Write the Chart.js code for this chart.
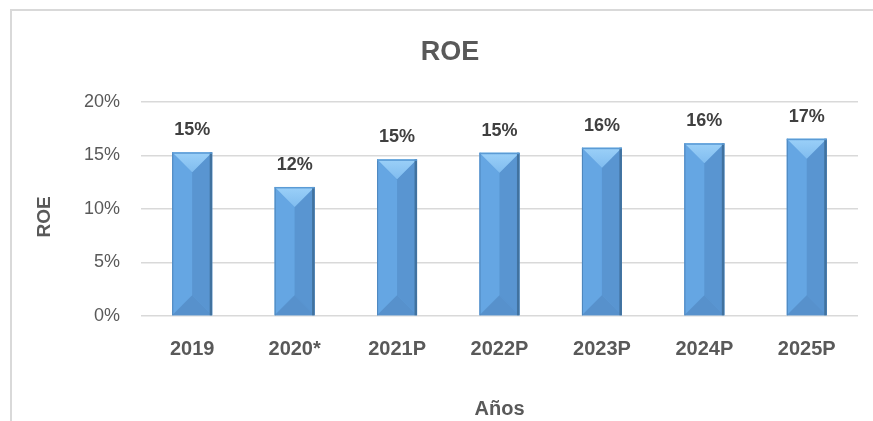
<!DOCTYPE html>
<html>
<head>
<meta charset="utf-8">
<script src="https://cdn.jsdelivr.net/npm/chart.js@4.4.1/dist/chart.umd.min.js"></script>
<style>
  html, body { margin: 0; padding: 0; background: #fff; }
  #wrap { width: 873px; height: 421px; }
</style>
</head>
<body>
<div id="wrap"><canvas id="roeChart" width="873" height="421"></canvas></div>
<script>
// datos del grafico
const years = ["2019", "2020*", "2021P", "2022P", "2023P", "2024P", "2025P"];
const roeValues = [0.153, 0.1206, 0.1464, 0.1526, 0.1573, 0.1614, 0.1657];
const yTicks = [0, 0.05, 0.10, 0.15, 0.20];

const grey = "#595959";

// marco del grafico (borde gris claro)
const framePlugin = {
  id: "frame",
  beforeDraw(chart) {
    const ctx = chart.ctx;
    ctx.save();
    ctx.fillStyle = "#fff";
    ctx.fillRect(0, 0, chart.width, chart.height);
    ctx.strokeStyle = "#d9d9d9";
    ctx.lineWidth = 2;
    ctx.strokeRect(11, 10, chart.width + 20, chart.height + 20);
    ctx.restore();
  }
};

// efecto bisel de Excel sobre cada barra + etiquetas de valor
const bevelPlugin = {
  id: "bevel",
  afterDatasetsDraw(chart) {
    const ctx = chart.ctx;
    const meta = chart.getDatasetMeta(0);
    meta.data.forEach((bar, i) => {
      const p = bar.getProps(["x", "y", "base", "width"], true);
      const x0 = p.x - p.width / 2, x1 = p.x + p.width / 2;
      const top = p.y, base = p.base;
      const d = Math.min(p.width / 2, (base - top) / 2);
      const poly = (pts, color) => {
        ctx.beginPath();
        ctx.moveTo(pts[0][0], pts[0][1]);
        for (let k = 1; k < pts.length; k++) ctx.lineTo(pts[k][0], pts[k][1]);
        ctx.closePath();
        ctx.fillStyle = color;
        ctx.fill();
      };
      ctx.save();
      // cara izquierda
      poly([[x0, top], [p.x, top + d], [p.x, base - d], [x0, base]], "#65a6e3");
      // cara derecha
      poly([[x1, top], [p.x, top + d], [p.x, base - d], [x1, base]], "#5995d1");
      // bisel inferior
      poly([[x0, base], [p.x, base - d], [x1, base]], "#5791cc");
      // bisel superior
      const g = ctx.createLinearGradient(0, top, 0, top + d);
      g.addColorStop(0, "#9bd0f8");
      g.addColorStop(1, "#80bcef");
      poly([[x0, top], [x1, top], [p.x, top + d]], g);
      // bordes
      ctx.fillStyle = "#41729f";
      ctx.fillRect(x1 - 2.5, top, 2.5, base - top);
      ctx.fillStyle = "#4e86bd";
      ctx.fillRect(x0, top, 1, base - top);
      ctx.fillStyle = "#5b9bd5";
      ctx.fillRect(x0, top, p.width, 1.5);

      // etiqueta
      ctx.fillStyle = "#404040";
      ctx.font = "bold 18px 'Liberation Sans', Arial, sans-serif";
      ctx.textAlign = "center";
      ctx.textBaseline = "middle";
      ctx.fillText(Math.round(roeValues[i] * 100) + "%", p.x, top - 22);
      ctx.restore();
    });
  }
};

const ctx = document.getElementById("roeChart").getContext("2d");
new Chart(ctx, {
  type: "bar",
  data: {
    labels: years,
    datasets: [{
      label: "ROE",
      data: roeValues,
      backgroundColor: "#62a2df",
      borderWidth: 0,
      categoryPercentage: 1,
      barPercentage: 0.39
    }]
  },
  options: {
    responsive: false,
    animation: false,
    layout: { padding: { left: 42, right: 15, top: 10, bottom: 0 } },
    plugins: {
      legend: { display: false },
      tooltip: { enabled: false },
      title: {
        display: true,
        text: "ROE",
        color: grey,
        font: { family: "'Liberation Sans', Arial", size: 27, weight: "bold" },
        padding: { top: 26, bottom: 33.6 }
      }
    },
    scales: {
      x: {
        grid: { display: false },
        border: { display: false },
        ticks: {
          color: grey,
          padding: 13,
          font: { family: "'Liberation Sans', Arial", size: 20, weight: "bold" }
        },
        title: {
          display: true,
          text: "Años",
          color: grey,
          font: { family: "'Liberation Sans', Arial", size: 20, weight: "bold" },
          padding: { top: 0, bottom: 0 }
        },
        afterFit(scale) { scale.height = 105; }
      },
      y: {
        min: 0,
        max: 0.2,
        afterBuildTicks(scale) { scale.ticks = yTicks.map(v => ({ value: v })); },
        grid: { color: "#d9d9d9", lineWidth: 1.5, drawTicks: false },
        border: { display: false },
        ticks: {
          color: grey,
          padding: 21,
          font: { family: "'Liberation Sans', Arial", size: 18 },
          callback: v => Math.round(v * 100) + "%"
        },
        title: {
          display: true,
          text: "ROE   ",
          color: grey,
          font: { family: "'Liberation Sans', Arial", size: 19, weight: "bold" },
          padding: { top: -9, bottom: 0 }
        },
        afterFit(scale) { scale.width = 99; }
      }
    }
  },
  plugins: [framePlugin, bevelPlugin]
});
</script>
</body>
</html>
